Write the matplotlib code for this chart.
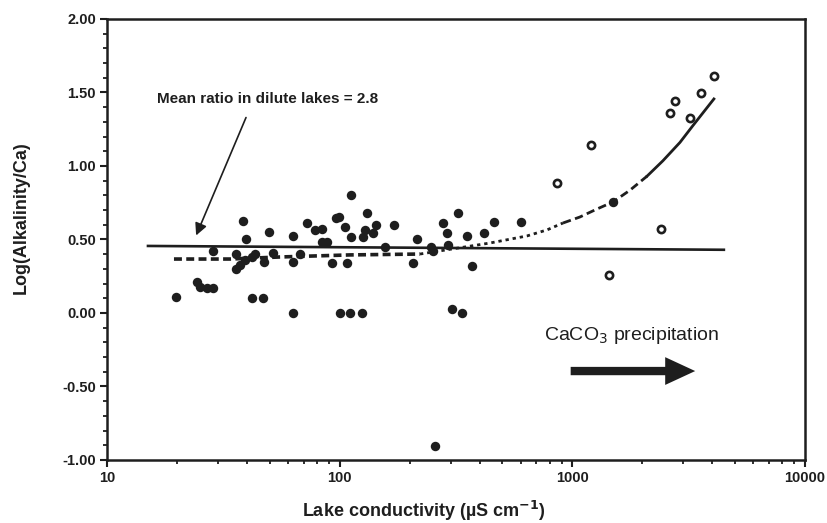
import matplotlib
matplotlib.use('Agg')
import matplotlib.pyplot as plt
from matplotlib.ticker import FixedLocator, MultipleLocator, FormatStrFormatter, NullFormatter
import numpy as np

plt.rcParams['font.family'] = ['Liberation Sans', 'DejaVu Sans']

# dilute lakes (filled symbols)
cond_filled = [19.8, 24.4, 25.1, 26.9, 28.5, 28.5, 38.4, 39.6, 35.8, 35.8,
               37.3, 39.2, 42.0, 43.3, 42.0, 46.8, 47.3, 49.7, 51.7, 63.0,
               63.0, 63.0, 67.5, 72.4, 78.3, 83.9, 83.9, 88.2, 92.7, 96.4,
               99.3, 105.4, 107.5, 111.8, 100.3, 110.7, 124.7, 111.8, 131.0, 128.4,
               125.9, 143.2, 139.0, 156.5, 171.2, 206.5, 214.9, 246.9, 251.8, 277.9,
               289.1, 292.0, 303.8, 335.4, 322.4, 352.4, 370.3, 417.0, 460.3, 601.3,
               1494, 256.8]
ratio_filled = [0.109, 0.211, 0.177, 0.170, 0.170, 0.422, 0.626, 0.503, 0.401, 0.299,
                0.327, 0.361, 0.381, 0.401, 0.102, 0.102, 0.347, 0.551, 0.408, 0.524,
                0.347, 0.0, 0.401, 0.612, 0.565, 0.571, 0.483, 0.483, 0.340, 0.646,
                0.653, 0.585, 0.340, 0.517, 0.0, 0.0, 0.0, 0.803, 0.680, 0.565,
                0.517, 0.599, 0.544, 0.449, 0.599, 0.340, 0.503, 0.449, 0.422, 0.612,
                0.544, 0.463, 0.027, 0.0, 0.680, 0.524, 0.320, 0.544, 0.619, 0.619,
                0.755, -0.905]

# saline lakes (open symbols)
cond_open = [858.6, 1202, 1436, 2403, 2627, 2760, 3202, 3569, 4059]
ratio_open = [0.884, 1.143, 0.259, 0.571, 1.361, 1.442, 1.327, 1.497, 1.612]

# mean ratio line (log 2.8)
mean_x = [15, 4480]
mean_y = [0.456, 0.43]

# trend curve
curve_x = [19.4, 33.8, 55.4, 110.7, 221.4, 442.5, 638.1, 778, 911.3, 1078,
           1275, 1494, 1768, 2092, 2449, 2900, 3299, 4059]
curve_y = [0.367, 0.367, 0.381, 0.395, 0.401, 0.476, 0.524, 0.565, 0.612, 0.653,
           0.707, 0.755, 0.835, 0.93, 1.035, 1.16, 1.275, 1.456]

col = '#1e1e1e'

fig = plt.figure(figsize=(8.27, 5.23), dpi=100)
ax = fig.add_axes([0.1294, 0.1205, 0.844, 0.8432])

ax.plot(mean_x, mean_y, '-', color=col, lw=1.9, zorder=2)

# curve drawn in pieces, the scan shows changing dash pattern
ax.plot(curve_x[0:5], curve_y[0:5], color=col, lw=2.6, linestyle=(0, (2.2, 1.2)), zorder=2)
ax.plot(curve_x[4:9], curve_y[4:9], color=col, lw=2.0, linestyle=(0, (1.2, 1.4)), zorder=2)
ax.plot(curve_x[8:14], curve_y[8:14], color=col, lw=2.0, linestyle=(0, (3.0, 1.6)), zorder=2)
ax.plot(curve_x[13:], curve_y[13:], color=col, lw=2.0, linestyle='-', zorder=2)

ax.plot(cond_filled, ratio_filled, 'o', color=col, ms=6.8, mew=0, zorder=3)
ax.plot(cond_open, ratio_open, 'o', mfc='white', mec=col, ms=5.2, mew=1.9, zorder=3)

ax.set_xscale('log')
ax.set_xlim(10, 10000)
ax.set_ylim(-1.0, 2.0)

ax.xaxis.set_major_locator(FixedLocator([10, 100, 1000, 10000]))
ax.xaxis.set_major_formatter(FormatStrFormatter('%d'))
ax.xaxis.set_minor_locator(FixedLocator([m * d for d in [10, 100, 1000] for m in range(2, 10)]))
ax.xaxis.set_minor_formatter(NullFormatter())
ax.yaxis.set_major_locator(MultipleLocator(0.5))
ax.yaxis.set_minor_locator(MultipleLocator(0.1))
ax.yaxis.set_major_formatter(FormatStrFormatter('%.2f'))

ax.tick_params(axis='both', which='major', direction='out', length=5, width=1.5,
               labelsize=10.5, colors=col, pad=3)
ax.tick_params(axis='both', which='minor', direction='out', length=3, width=1.3, colors=col)
for s in ax.spines.values():
    s.set_linewidth(1.8)
    s.set_color(col)
for t in ax.get_xticklabels() + ax.get_yticklabels():
    t.set_fontweight('bold')

ax.set_xlabel('Lake conductivity (\u00b5S cm$^{\\mathbf{-1}}$)', fontsize=13, fontweight='bold', color=col)
ax.set_ylabel('Log(Alkalinity/Ca)', fontsize=13, fontweight='bold', color=col)
ax.xaxis.set_label_coords(0.454, -0.088)
ax.yaxis.set_label_coords(-0.11, 0.549)

ax.text(16.4, 1.456, 'Mean ratio in dilute lakes = 2.8', fontsize=11, fontweight='bold',
        color=col, va='center', ha='left')
ax.annotate('', xy=(23.9, 0.51), xytext=(40.0, 1.347),
            arrowprops=dict(arrowstyle='-|>', color=col, lw=1.2, mutation_scale=18))

ax.text(755, -0.15, 'CaCO$_3$ precipitation', fontsize=14, color=col,
        va='center', ha='left')
ax.annotate('', xy=(3467, -0.395), xytext=(957, -0.395),
            arrowprops=dict(arrowstyle='simple,head_length=1.08,head_width=1.0,tail_width=0.3',
                            color=col, lw=0, mutation_scale=20))

fig.savefig('out.png', dpi=100)
